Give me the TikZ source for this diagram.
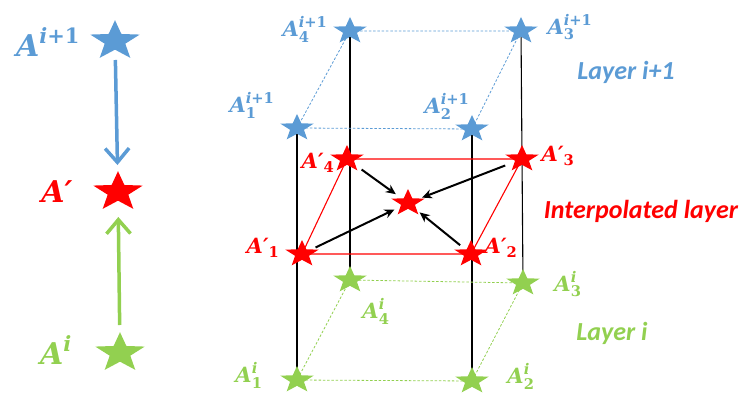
\documentclass[tikz,border=0pt]{standalone}
\usepackage{amsmath}
\usepackage{fontspec}
\setmainfont{Carlito}
\newfontfamily\labfont{DejaVu Serif}
\usetikzlibrary{shapes.geometric,arrows.meta,backgrounds}
\definecolor{lblue}{RGB}{91,155,213}
\definecolor{lgreen}{RGB}{146,208,80}
\definecolor{lred}{RGB}{255,0,0}
% #1 style, #2 position, #3 name
\newcommand\mkstar[3]{\begin{scope}[shift={#2},yscale=0.8]\node[#1,transform shape] (#3) at (0,0) {};\end{scope}}
\newcommand\LA{\text{\labfont\bfseries\itshape A}}
\newcommand\LAp{\text{\labfont\bfseries\itshape A\char"2032}}
\newcommand\bi[1]{\text{\labfont\bfseries\itshape #1}}
\newcommand\bu[1]{\text{\labfont\bfseries #1}}
\begin{document}
\begin{tikzpicture}[x=1pt,y=-1pt,
 starb/.style={star,star points=5,star point ratio=2.4,fill=#1,draw=none,inner sep=0pt,minimum size=35pt},
 bigstar/.style={starb=#1,minimum size=52pt},
 lab/.style={font=\fontsize{21}{23}\selectfont,text=#1,inner sep=0pt},
 biglab/.style={font=\fontsize{30}{33}\selectfont,text=#1,inner sep=0pt},
 layertxt/.style={font=\fontsize{26}{28}\selectfont\bfseries\itshape,text=#1,inner sep=0pt},
 vline/.style={black,line width=1.1pt},
 dashedge/.style={#1,dashed,dash pattern=on 2.5pt off 1.8pt,line width=0.8pt},
 bigarrow/.style={#1,line width=3.5pt,-{Straight Barb[length=14pt,width=24pt,line width=3.5pt]}},
 blackarrow/.style={black,line width=2pt,-{Stealth[length=10pt,width=9pt]}}]
\useasboundingbox (0,0) rectangle (744,401);

% left column
\mkstar{bigstar=lblue}{(115,41)}{LB}
\mkstar{bigstar=lred}{(118,192)}{LR}
\mkstar{bigstar=lgreen}{(120,353)}{LG}
\node[biglab=lblue] (tLB) at (48,42) {$\LA^{\bi{i}\bu{+1}}$};
\node[biglab=lred] (tLR) at (57,192) {$\LAp$};
\node[biglab=lgreen] (tLG) at (56,350) {$\LA^{\bi{i}}$};
\draw[bigarrow=lblue,shorten <=19pt,shorten >=27pt] (LB.center) -- (LR.center);
\draw[bigarrow=lgreen,shorten <=28pt,shorten >=25pt] (LG.center) -- (LR.center);

% layer i+1
\mkstar{starb=lblue}{(350,31)}{B4}
\mkstar{starb=lblue}{(521,31)}{B3}
\mkstar{starb=lblue}{(297,128)}{B1}
\mkstar{starb=lblue}{(472,129)}{B2}
% interpolated layer
\mkstar{starb=lred}{(347,159)}{R4}
\mkstar{starb=lred}{(522,159)}{R3}
\mkstar{starb=lred}{(302,254)}{R1}
\mkstar{starb=lred}{(471,254)}{R2}
\mkstar{starb=lred}{(408,203)}{RC}
% layer i
\mkstar{starb=lgreen}{(350,280)}{G4}
\mkstar{starb=lgreen}{(523,283)}{G3}
\mkstar{starb=lgreen}{(297,380)}{G1}
\mkstar{starb=lgreen}{(472,381)}{G2}

\begin{scope}[on background layer]
\draw[vline] (B1.center) -- (G1.center);
\draw[vline] (B4.center) -- (G4.center);
\draw[vline] (B2.center) -- (G2.center);
\draw[vline] (B3.center) -- (G3.center);
\draw[dashedge=lblue] (B1.center) -- (B2.center) -- (B3.center) -- (B4.center) -- cycle;
\draw[dashedge=lgreen] (G1.center) -- (G2.center) -- (G3.center) -- (G4.center) -- cycle;
\draw[lred,line width=1.1pt] (R1.center) -- (R2.center) -- (R3.center) -- (R4.center) -- cycle;
\end{scope}

\draw[blackarrow,shorten <=18pt,shorten >=15pt] (R4.center) -- (RC.center);
\draw[blackarrow,shorten <=18pt,shorten >=15pt] (R3.center) -- (RC.center);
\draw[blackarrow,shorten <=15pt,shorten >=15pt] (R1.center) -- (RC.center);
\draw[blackarrow,shorten <=14pt,shorten >=15pt] (R2.center) -- (RC.center);

% labels
\node[lab=lblue] (tB4) at (305,29) {$\LA_{\bu{4}}^{\bi{i}\bu{+1}}$};
\node[lab=lblue] (tB3) at (570,27) {$\LA_{\bu{3}}^{\bi{i}\bu{+1}}$};
\node[lab=lblue] (tB1) at (252,105) {$\LA_{\bu{1}}^{\bi{i}\bu{+1}}$};
\node[lab=lblue] (tB2) at (447,106) {$\LA_{\bu{2}}^{\bi{i}\bu{+1}}$};
\node[lab=lred] (tR4) at (318,163) {$\LAp_{\bu{4}}$};
\node[lab=lred] (tR3) at (558,156) {$\LAp_{\bu{3}}$};
\node[lab=lred] (tR1) at (263,248) {$\LAp_{\bu{1}}$};
\node[lab=lred] (tR2) at (501,248) {$\LAp_{\bu{2}}$};
\node[lab=lgreen] (tG4) at (376,311) {$\LA_{\bu{4}}^{\bi{i}}$};
\node[lab=lgreen] (tG3) at (568,284) {$\LA_{\bu{3}}^{\bi{i}}$};
\node[lab=lgreen] (tG1) at (249,375) {$\LA_{\bu{1}}^{\bi{i}}$};
\node[lab=lgreen] (tG2) at (521,376) {$\LA_{\bu{2}}^{\bi{i}}$};

\node[layertxt=lblue] (L1) at (626,72) {Layer i+1};
\node[layertxt=lred] (L2) at (641,211) {Interpolated layer};
\node[layertxt=lgreen] (L3) at (612,333) {Layer i};
\end{tikzpicture}
\end{document}
